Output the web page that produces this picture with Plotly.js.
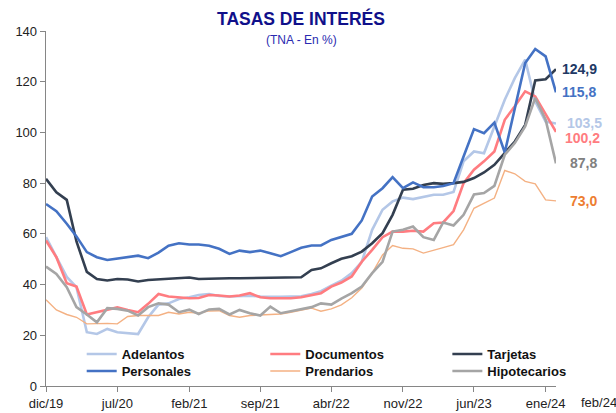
<!DOCTYPE html>
<html>
<head>
<meta charset="utf-8">
<script src="https://cdn.plot.ly/plotly-3.0.1.min.js"></script>
<style>
  body { margin: 0; background: #fff; }
  #chart { width: 616px; height: 413px; }
</style>
</head>
<body>
<div id="chart"></div>
<script>
// Data (TNA, %), monthly from dic/19 to feb/24
let tickLabels = ['dic/19', 'jul/20', 'feb/21', 'sep/21', 'abr/22', 'nov/22', 'jun/23', 'ene/24'];
let tickDates = ['2019-12-01', '2020-07-01', '2021-02-01', '2021-09-01', '2022-04-01', '2022-11-01', '2023-06-01', '2024-01-01'];

let adelantos = [58.7, 51, 43, 39, 21.2, 20.5, 22.5, 21.2, 20.9, 20.5,
    27.1, 32.1, 32.6, 34.3, 35, 35.9, 36.3, 35.5, 35.3, 35.5,
    35.6, 35.3, 35.2, 35.2, 35.3, 35.4, 36.3, 37.4, 39.6, 41.5,
    44.5, 49, 61.6, 69.5, 72.8, 74.3, 73.7, 74.7, 75.4, 75.4,
    76.5, 88.6, 92.5, 91.8, 102.4, 112.9, 121.4, 128.7, 112.2, 104.3, 103.5];
let documentos = [57.4, 50.8, 40.5, 39.2, 28.2, 29.1, 30, 31, 30, 29.1,
    32.4, 36.3, 35.3, 35, 34.6, 34.7, 35.9, 35.7, 35.3, 35.7,
    36.6, 35, 34.6, 34.6, 34.6, 35, 35.7, 36.6, 39.2, 40.8,
    43.2, 49, 53.7, 58.7, 60.9, 60.9, 61.2, 60.9, 64.2, 64.5,
    69, 80, 85.3, 88.6, 92.5, 105, 110.3, 116.2, 114.2, 107, 100.2];
let tarjetas = [81.7, 76.4, 73.4, 57, 45, 42.2, 41.6, 42.2, 42, 41.2,
    41.8, 42.1, 42.1, 42.4, 42.8, 42.2, 42.4, 42.5, 42.5, 42.5,
    42.6, 42.6, 42.7, 42.7, 42.8, 42.9, 45.8, 46.4, 48.4, 50.2,
    51.2, 53, 56.3, 60.3, 67.5, 77.4, 77.8, 79.3, 80, 79.7,
    80, 80.5, 82, 84.2, 87.2, 91.8, 96.4, 103, 120.5, 121, 124.9];
let personales = [71.8, 68.9, 64, 59, 52.8, 50.8, 49.7, 50.3, 50.8, 51.4,
    50.4, 52.6, 55.3, 56.3, 55.8, 55.8, 55.3, 54.1, 52.1, 53.4,
    52.8, 53.4, 52.4, 51.2, 52.8, 54.5, 55.4, 55.4, 57.6, 58.8,
    60, 65.3, 74.7, 78, 82.4, 78, 80.3, 78.4, 78.4, 78.9,
    80, 90.5, 101.3, 99.7, 103.9, 92.1, 110, 127.4, 132.9, 130, 115.8];
let prendarios = [34, 30, 28.2, 27.1, 24.5, 24.7, 24.7, 24.5, 27.4, 27.8,
    27.8, 27.8, 29.1, 28.4, 29.1, 28.7, 29.6, 29.7, 27.8, 27.1,
    27.8, 28, 28, 28.4, 29.1, 30, 30.7, 29.5, 30.4, 32,
    34.8, 38.6, 44.5, 51.7, 55.4, 54.3, 54.1, 52.4, 53.7, 54.6,
    55.7, 61.6, 70.1, 72.1, 74.1, 85, 83.7, 80.7, 79.7, 73.4, 73];
let hipotecarios = [47.1, 44.2, 39, 31.1, 28.2, 25.1, 30.7, 30.4, 29.7, 27.8,
    31.1, 32.6, 32.1, 29.1, 30.1, 28.4, 30.2, 30.4, 28.2, 30,
    28.7, 27.8, 31.3, 28.7, 29.5, 30.4, 31.1, 32.6, 32.1, 34.5,
    36.6, 39.2, 44.5, 49, 60.9, 61.6, 62.9, 58.7, 57.6, 64.5,
    63.3, 67.5, 75.5, 76.1, 78.9, 91.2, 95.8, 102.4, 113.6, 105, 87.8];

// month dates for the x axis
let months = [];
for (let i = 0; i < adelantos.length; i++) {
    let d = new Date(Date.UTC(2019, 11 + i, 1));
    months.push(d.toISOString().slice(0, 10));
}

let font = 'Liberation Sans, Arial, sans-serif';

// name, values, line colour, width, label colour, label shifts, legend id
let series = [
    {name: 'Adelantos', y: adelantos, color: '#b4c7e7', width: 2.6, label: '#b4c7e7', dx: 9, dy: 1, legend: 'legend'},
    {name: 'Documentos', y: documentos, color: '#ff7c80', width: 2.6, label: '#ff7c80', dx: 7, dy: -6, legend: 'legend2'},
    {name: 'Tarjetas', y: tarjetas, color: '#333f50', width: 2.6, label: '#203864', dx: 4, dy: 0, legend: 'legend3'},
    {name: 'Personales', y: personales, color: '#4472c4', width: 2.6, label: '#4472c4', dx: 4, dy: 0, legend: 'legend4'},
    {name: 'Prendarios', y: prendarios, color: '#f4b183', width: 1.4, label: '#ed7d31', dx: 12, dy: 0, legend: 'legend5'},
    {name: 'Hipotecarios', y: hipotecarios, color: '#a5a5a5', width: 2.6, label: '#808080', dx: 12, dy: 0, legend: 'legend6'}
];

let traces = series.map(function(s) {
    return {
        type: 'scatter',
        mode: 'lines',
        name: s.name,
        x: months,
        y: s.y,
        line: {color: s.color, width: s.width},
        legend: s.legend,
        hoverinfo: 'x+y+name'
    };
});

let annotations = series.map(function(s) {
    let last = s.y[s.y.length - 1];
    return {
        xref: 'x', yref: 'y',
        x: months[months.length - 1], y: last,
        text: '<b>' + last.toFixed(1).replace('.', ',') + '</b>',
        showarrow: false,
        xanchor: 'left', yanchor: 'middle',
        xshift: s.dx, yshift: s.dy,
        font: {family: font, size: 14, color: s.label}
    };
});

annotations.push({
    xref: 'paper', yref: 'paper', x: 0.5, y: 1.035, xanchor: 'center', yanchor: 'middle',
    text: '<b>TASAS DE INTERÉS</b>', showarrow: false,
    font: {family: font, size: 17.5, color: '#10108a'}
});
annotations.push({
    xref: 'paper', yref: 'paper', x: 0.5, y: 0.976, xanchor: 'center', yanchor: 'middle',
    text: '(TNA - En %)', showarrow: false,
    font: {family: font, size: 12, color: '#2a2ab0'}
});
// last axis label, sits outside the axis end
annotations.push({
    xref: 'paper', yref: 'paper', x: 1.084, y: -0.047, xanchor: 'center', yanchor: 'middle',
    text: 'feb/24', showarrow: false,
    font: {family: font, size: 13, color: '#222'}
});

function legendAt(x, y) {
    return {
        x: x, y: y, xanchor: 'left', yanchor: 'middle',
        bgcolor: 'rgba(0,0,0,0)',
        font: {family: font, size: 13, color: '#111', weight: 'bold'},
        itemclick: false, itemdoubleclick: false
    };
}

let layout = {
    width: 616,
    height: 413,
    margin: {l: 46, r: 60, t: 31, b: 27},
    paper_bgcolor: '#fff',
    plot_bgcolor: '#fff',
    showlegend: true,
    legend: legendAt(0.07, 0.090),
    legend2: legendAt(0.43, 0.090),
    legend3: legendAt(0.787, 0.090),
    legend4: legendAt(0.07, 0.042),
    legend5: legendAt(0.43, 0.042),
    legend6: legendAt(0.787, 0.042),
    xaxis: {
        type: 'date',
        range: [months[0], months[months.length - 1]],
        tickvals: tickDates,
        ticktext: tickLabels,
        ticks: 'outside', ticklen: 5, tickcolor: '#868686',
        showline: true, linecolor: '#868686', linewidth: 1.3,
        showgrid: false, zeroline: false,
        tickfont: {family: font, size: 13, color: '#222'}
    },
    yaxis: {
        range: [0, 140],
        dtick: 20,
        ticks: 'outside', ticklen: 5, tickcolor: '#868686',
        showline: true, linecolor: '#868686', linewidth: 1.3,
        showgrid: false, zeroline: false,
        tickfont: {family: font, size: 13, color: '#222'}
    },
    annotations: annotations
};

Plotly.newPlot('chart', traces, layout, {displayModeBar: false, staticPlot: true});
</script>
</body>
</html>
